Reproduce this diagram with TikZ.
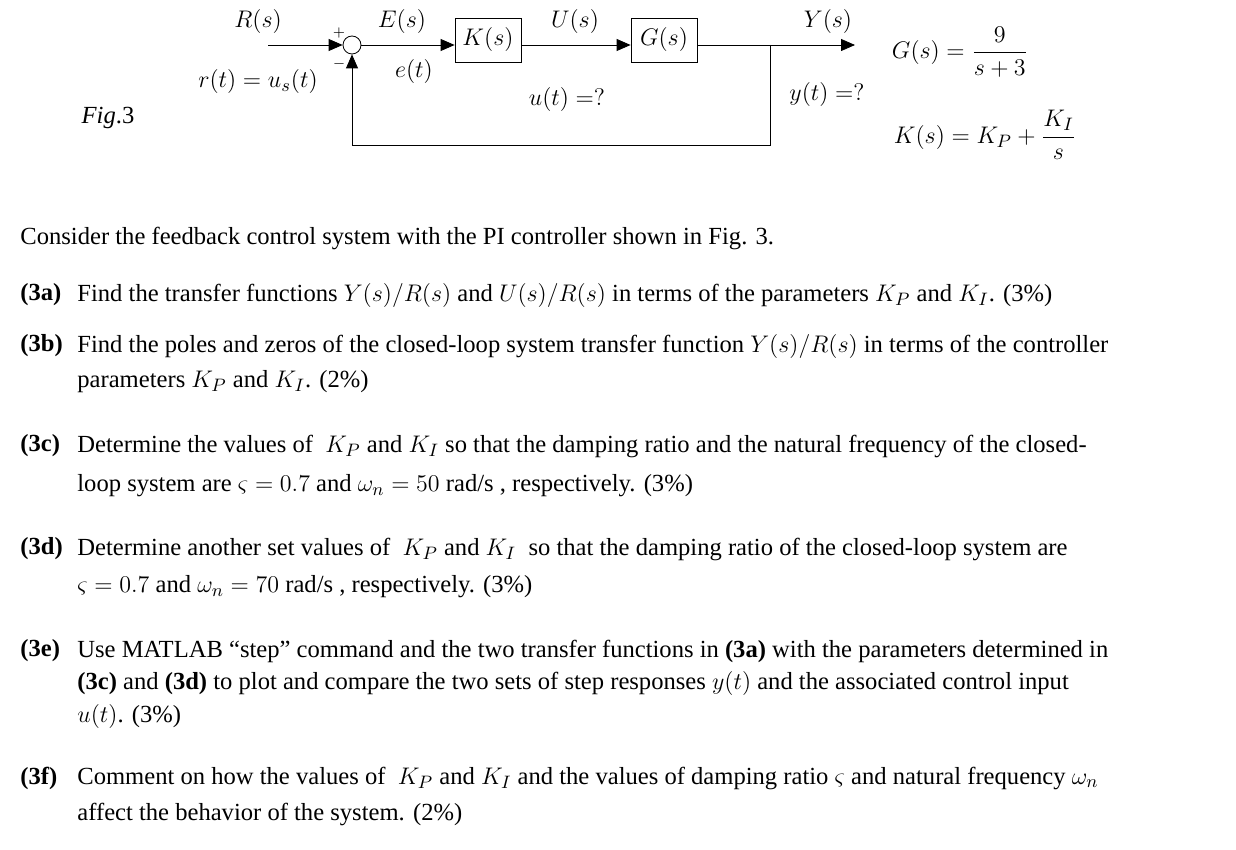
\documentclass[tikz,border=0pt]{standalone}
\usepackage{fontspec}
\setmainfont{Liberation Serif}
\usetikzlibrary{arrows.meta}
\begin{document}
\begin{tikzpicture}[x=0.5pt,y=-0.5pt,font=\fontsize{12.3}{14}\selectfont,
  blk/.style={draw,minimum width=33pt,minimum height=22pt,inner sep=0pt},
  sig/.style={-{Triangle[length=7pt,width=6pt]}},
  lbl/.style={anchor=west,inner sep=0pt},
  ln/.style={anchor=west,inner sep=0pt,text width=550pt,align=justify},
  lastln/.style={anchor=west,inner sep=0pt}]
\useasboundingbox (0,0) rectangle (1236,850);
% block diagram
\coordinate (in) at (268,45);
\node[draw,circle,minimum size=9pt,inner sep=0pt] (sum) at (352,45) {};
\node[blk] (K) at (488,40) {$K(s)$};
\node[blk] (G) at (664,40) {$G(s)$};
\coordinate (out) at (855,45);
\coordinate (br) at (770,45);
\coordinate (fb) at (770,145);
\draw[sig] (in) -- (sum);
\draw[sig] (sum.east) -- (K.west |- sum.east);
\draw[sig] (K.east |- sum) -- (G.west |- sum);
\draw[sig] (G.east |- sum) -- (out);
\draw[sig] (br) -- (fb) -- (sum.south |- fb) -- (sum.south);
\node (Rs) at (258,22) {$R(s)$};
\node (plus) at (339,33) {\scriptsize $+$};
\node (minus) at (339,64) {\scriptsize $-$};
\node (rt) at (258,82) {$r(t)=u_s(t)$};
\node (Es) at (402,22) {$E(s)$};
\node (et) at (414,72) {$e(t)$};
\node (Us) at (575,22) {$U(s)$};
\node (ut) at (567,100) {$u(t)=?$};
\node (Ys) at (828,22) {$Y(s)$};
\node (yt) at (827,95) {$y(t)=?$};
\node (fig) at (108,118) {\textit{Fig}.3};
\node (Geq) at (960,52) {$\displaystyle G(s)=\frac{9}{s+3}$};
\node (Keq) at (985,135) {$\displaystyle K(s)=K_P+\frac{K_I}{s}$};
% text
\node[lbl] (t0) at (20,238) {Consider the feedback control system with the PI controller shown in Fig. 3.};
\node[lbl] (a) at (20,295) {\textbf{(3a)}};
\node[lastln] (a1) at (77,295) {Find the transfer functions $Y(s)/R(s)$ and $U(s)/R(s)$ in terms of the parameters $K_P$ and $K_I$. (3\%)};
\node[lbl] (b) at (20,346) {\textbf{(3b)}};
\node[ln] (b1) at (77,346) {\parfillskip=0pt Find the poles and zeros of the closed-loop system transfer function $Y(s)/R(s)$ in terms of the controller};
\node[lastln] (b2) at (77,382) {parameters $K_P$ and $K_I$. (2\%)};
\node[lbl] (c) at (20,446) {\textbf{(3c)}};
\node[ln] (c1) at (77,446) {\parfillskip=0pt Determine the values of \ $K_P$ and $K_I$ so that the damping ratio and the natural frequency of the closed-};
\node[lastln] (c2) at (77,486) {loop system are $\varsigma=0.7$ and $\omega_n=50$ rad/s , respectively. (3\%)};
\node[lbl] (d) at (20,549) {\textbf{(3d)}};
\node[ln] (d1) at (77,549) {\parfillskip=0pt Determine another set values of \ $K_P$ and $K_I$ \ so that the damping ratio of the closed-loop system are};
\node[lbl] (d2) at (77,587) {$\varsigma=0.7$ and $\omega_n=70$ rad/s , respectively. (3\%)};
\node[lbl] (e) at (20,651) {\textbf{(3e)}};
\node[ln] (e1) at (77,651) {\parfillskip=0pt Use MATLAB “step” command and the two transfer functions in \textbf{(3a)} with the parameters determined in};
\node[ln] (e2) at (77,683) {\parfillskip=0pt \textbf{(3c)} and \textbf{(3d)} to plot and compare the two sets of step responses $y(t)$ and the associated control input};
\node[lastln] (e3) at (77,716) {$u(t)$. (3\%)};
\node[lbl] (f) at (20,778) {\textbf{(3f)}};
\node[ln] (f1) at (77,778) {\parfillskip=0pt Comment on how the values of \ $K_P$ and $K_I$ and the values of damping ratio $\varsigma$ and natural frequency $\omega_n$};
\node[lastln] (f2) at (77,814) {affect the behavior of the system. (2\%)};
\end{tikzpicture}
\end{document}
